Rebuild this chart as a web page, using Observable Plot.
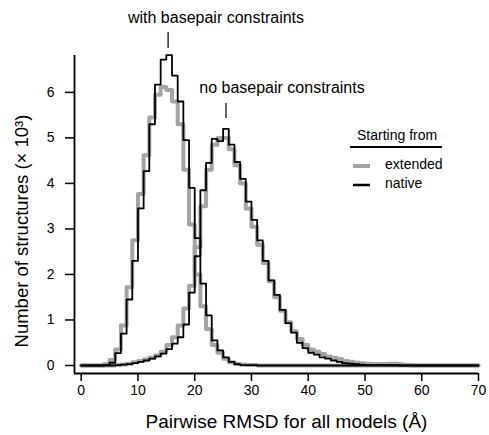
<!DOCTYPE html>
<html><head><meta charset="utf-8">
<script src="https://cdn.jsdelivr.net/npm/d3@7"></script>
<script src="https://cdn.jsdelivr.net/npm/@observablehq/plot@0.6"></script>
<style>
body{margin:0;background:#fff}
svg{font-family:"Liberation Sans",Arial,sans-serif}
</style>
</head><body><div id="chart"></div>
<script>
// RMSD bins of 1 Å: bin i covers [i, i+1)
const xTicks = [0, 10, 20, 30, 40, 50, 60, 70];
const yTicks = [0, 1, 2, 3, 4, 5, 6];

// with basepair constraints (values × 10³)
const withExtended = [0,0,0,0,0.03,0.12,0.35,0.88,1.72,2.75,3.77,4.62,5.45,5.95,6.12,6.05,5.8,5.3,4.3,3.1,2.0,1.3,0.8,0.45,0.28,0.15,0.07,0.03,0.02,0.01,0.01,0,0,0,0,0,0,0,0,0,0,0,0,0,0,0,0,0,0,0,0,0,0,0,0,0,0,0,0,0,0,0,0,0,0,0,0,0,0,0];
const withNative   = [0,0,0,0,0.01,0.06,0.27,0.7,1.45,2.3,3.45,4.27,5.3,6.17,6.72,6.82,6.37,5.8,4.95,3.9,2.8,1.8,1.1,0.55,0.33,0.18,0.08,0.03,0.01,0.01,0.01,0,0,0,0,0,0,0,0,0,0,0,0,0,0,0,0,0,0,0,0,0,0,0,0,0,0,0,0,0,0,0,0,0,0,0,0,0,0,0];
// no basepair constraints
const noExtended   = [0,0,0,0,0,0,0.01,0.02,0.04,0.07,0.1,0.13,0.17,0.22,0.3,0.45,0.62,0.88,1.25,1.75,2.6,3.5,4.3,4.85,5.0,5.0,4.75,4.4,4.0,3.45,3.05,2.65,2.25,1.85,1.5,1.2,0.95,0.75,0.58,0.45,0.35,0.3,0.25,0.2,0.17,0.14,0.1,0.08,0.06,0.05,0.04,0.03,0.03,0.03,0.04,0.04,0.02,0.01,0,0,0,0,0,0,0,0,0,0,0,0];
const noNative     = [0,0,0,0,0,0,0.01,0.02,0.03,0.05,0.08,0.11,0.15,0.2,0.26,0.36,0.48,0.62,0.9,1.6,2.4,3.85,4.45,4.98,4.93,5.2,4.85,4.47,4.1,3.6,3.2,2.75,2.3,1.87,1.55,1.22,0.93,0.72,0.5,0.38,0.28,0.24,0.18,0.15,0.11,0.08,0.05,0.04,0.03,0.02,0.01,0.01,0.01,0.01,0.01,0.01,0,0,0,0,0,0,0,0,0,0,0,0,0,0];

const binEdges = d3.range(0, 71);
function steps(vals) {
  return binEdges.map((x, i) => ({x, y: vals[Math.min(i, vals.length - 1)]}));
}

const grey = "#a4a4a4";
const chart = Plot.plot({
  width: 489, height: 435,
  marginLeft: 74, marginRight: 11, marginTop: 55, marginBottom: 62,
  x: {domain: [-1.18, 70]},
  y: {domain: [-0.176, 6.81]},
  style: {fontFamily: '"Liberation Sans", Arial, sans-serif', fontSize: "14px", color: "#000"},
  marks: [
    Plot.line(steps(withExtended), {x: "x", y: "y", curve: "step-after", stroke: grey, strokeWidth: 4}),
    Plot.line(steps(noExtended), {x: "x", y: "y", curve: "step-after", stroke: grey, strokeWidth: 4}),
    Plot.line(steps(withNative), {x: "x", y: "y", curve: "step-after", stroke: "#000", strokeWidth: 1.8}),
    Plot.line(steps(noNative), {x: "x", y: "y", curve: "step-after", stroke: "#000", strokeWidth: 1.8}),
    Plot.axisX({ticks: xTicks, tickFormat: "d", tickSize: 8, tickPadding: 4, label: null, fontSize: 14, strokeWidth: 1.5}),
    Plot.axisY({ticks: yTicks, tickFormat: "d", tickSize: 9, tickPadding: 11, label: null, fontSize: 14, strokeWidth: 1.5}),
    Plot.ruleY([-0.176], {stroke: "#000", strokeWidth: 1.8}),
    Plot.ruleX([-1.18], {stroke: "#000", strokeWidth: 1.8})
  ]
});
document.getElementById("chart").appendChild(chart);

const svg = d3.select(chart);
const xs = chart.scale("x");
const font = '"Liberation Sans", Arial, sans-serif';
function text(x, y, s, size, anchor, rot) {
  const t = svg.append("text").attr("x", x).attr("y", y).text(s)
    .attr("font-size", size).attr("fill", "#000").attr("font-family", font)
    .attr("text-anchor", anchor || "start");
  if (rot) t.attr("transform", `rotate(${rot},${x},${y})`);
  return t;
}
// axis titles
text(286.5, 428, "Pairwise RMSD for all models (Å)", 19, "middle");
text(28, 231, "Number of structures (× 10³)", 18.5, "middle", -90);

// annotations
const peakWith = 15.4, peakNo = 25.6;
text(216, 22.5, "with basepair constraints", 16, "middle");
svg.append("line").attr("x1", xs.apply(peakWith)).attr("x2", xs.apply(peakWith)).attr("y1", 32).attr("y2", 48).attr("stroke", "#000").attr("stroke-width", 1.2);
text(282, 93, "no basepair constraints", 16, "middle");
svg.append("line").attr("x1", xs.apply(peakNo)).attr("x2", xs.apply(peakNo)).attr("y1", 103).attr("y2", 118).attr("stroke", "#000").attr("stroke-width", 1.2);

// legend
text(357, 140, "Starting from", 14, "start");
svg.append("line").attr("x1", 350).attr("x2", 442).attr("y1", 147).attr("y2", 147).attr("stroke", "#000").attr("stroke-width", 2);
svg.append("line").attr("x1", 353).attr("x2", 370).attr("y1", 166).attr("y2", 166).attr("stroke", grey).attr("stroke-width", 4);
svg.append("line").attr("x1", 353).attr("x2", 370).attr("y1", 185).attr("y2", 185).attr("stroke", "#000").attr("stroke-width", 2.5);
text(385, 169, "extended", 14, "start");
text(385, 188, "native", 14, "start");
</script>
</body></html>
